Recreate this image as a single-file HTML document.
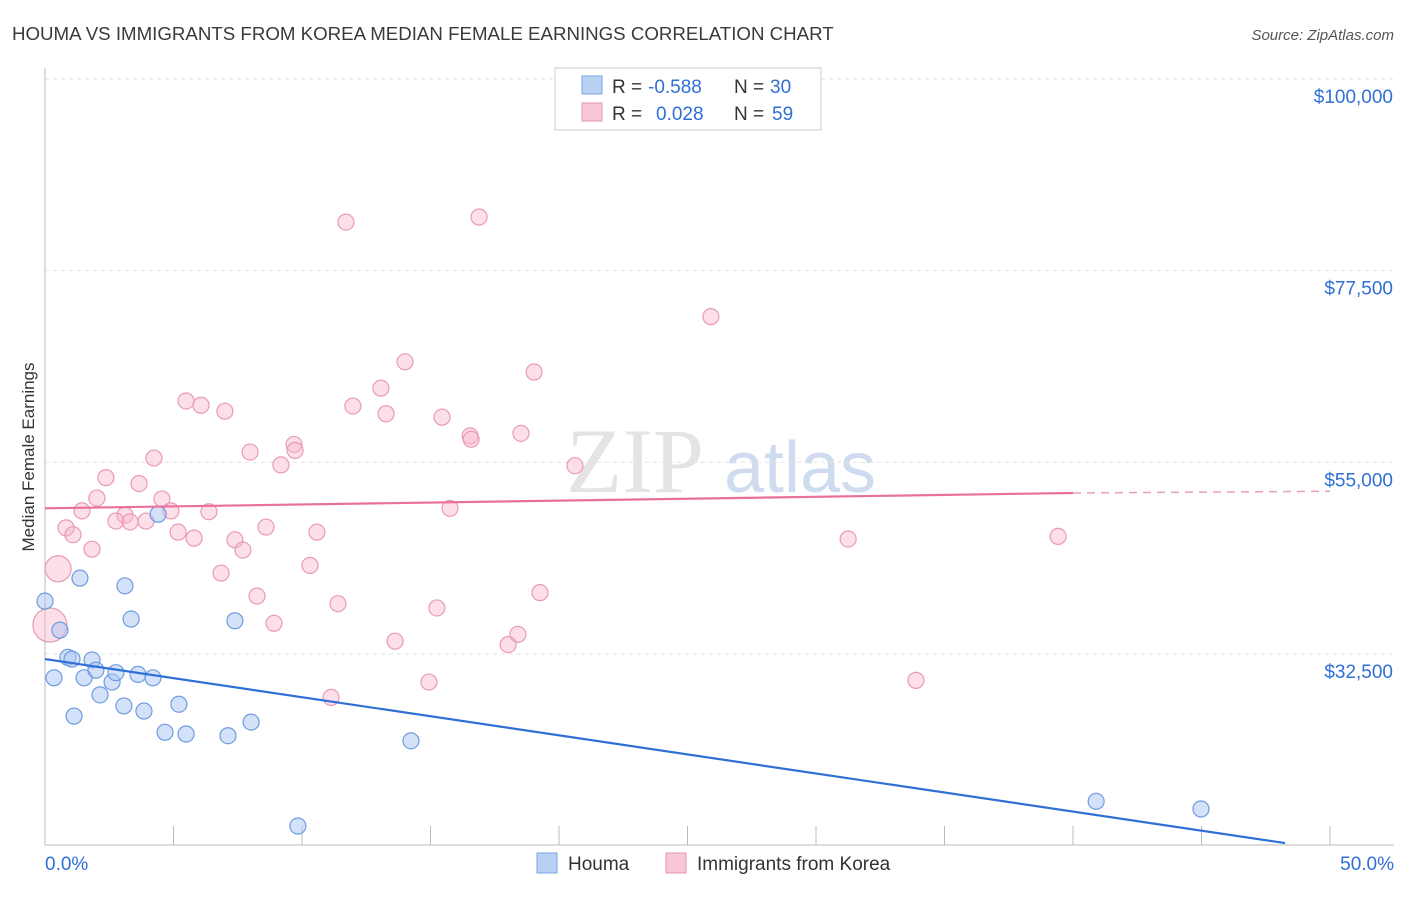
<!DOCTYPE html>
<html><head><meta charset="utf-8"><style>
body{margin:0;background:#fff;font-family:"Liberation Sans",sans-serif;}
</style></head><body>
<svg id="c" width="1406" height="892" xmlns="http://www.w3.org/2000/svg" style="font-family:'Liberation Sans',sans-serif">
<text x="12" y="40" font-size="18.7" fill="#3a3a3a">HOUMA VS IMMIGRANTS FROM KOREA MEDIAN FEMALE EARNINGS CORRELATION CHART</text>
<text x="1394" y="40" font-size="15" fill="#555" text-anchor="end" font-style="italic">Source: ZipAtlas.com</text>
<text x="34" y="457" font-size="17" fill="#333" text-anchor="middle" transform="rotate(-90 34 457)">Median Female Earnings</text>
<text x="635" y="492" font-size="92" fill="#e4e4e4" font-family="'Liberation Serif',serif" text-anchor="middle">ZIP</text>
<text x="800" y="492" font-size="72" fill="#cfdcf0" text-anchor="middle">atlas</text>
<g id="grid"></g><g id="pts"></g><g id="lines"></g>
<g>
<rect x="555" y="68" width="266" height="62" fill="#fff" stroke="#ccc"/>
<rect x="582" y="76" width="20" height="18" fill="#b8d0f4" stroke="#7aa3e0"/>
<text x="612" y="93" font-size="19" fill="#333">R =</text>
<text x="648" y="93" font-size="19" fill="#2f6fd6">-0.588</text>
<text x="734" y="93" font-size="19" fill="#333">N =</text>
<text x="770" y="93" font-size="19" fill="#2f6fd6">30</text>
<rect x="582" y="103" width="20" height="18" fill="#f8c8d6" stroke="#e891ae"/>
<text x="612" y="120" font-size="19" fill="#333">R =</text>
<text x="656" y="120" font-size="19" fill="#2f6fd6">0.028</text>
<text x="734" y="120" font-size="19" fill="#333">N =</text>
<text x="772" y="120" font-size="19" fill="#2f6fd6">59</text>
</g>
<g>
<rect x="537" y="853" width="20" height="20" fill="#b8d0f4" stroke="#7aa3e0"/>
<text x="568" y="870" font-size="19" fill="#333">Houma</text>
<rect x="666" y="853" width="20" height="20" fill="#f8c8d6" stroke="#e891ae"/>
<text x="697" y="870" font-size="19" fill="#333">Immigrants from Korea</text>
</g>
</svg>
<script>
const yTicks=[32500,55000,77500,100000];
const yTickLabels=["$32,500","$55,000","$77,500","$100,000"];
const xTickLabels=["0.0%","50.0%"];
const houmaX=[0,0.58,0.89,0.35,1.13,1.36,1.52,1.83,1.98,2.14,2.61,2.76,3.07,3.11,3.35,3.62,3.85,4.2,4.4,4.67,5.21,5.49,7.12,7.39,8.02,9.84,14.24,40.9,44.98,1.05];
const houmaY=[38700,35300,32100,29700,25200,41400,29700,31800,30600,27700,29200,30300,26400,40500,36600,30100,25800,29700,48900,23300,26600,23100,22900,36400,24500,12300,22300,15200,14300,31900];
const koreaX=[11.71,16.89,25.91,14.01,19.03,13.07,5.49,6.07,7.0,11.98,13.27,15.45,16.54,16.58,18.52,9.69,9.73,7.98,4.24,9.18,20.62,2.37,3.66,2.02,4.55,1.44,3.11,4.9,6.38,15.76,0.82,1.09,2.76,3.31,3.93,5.18,5.8,7.39,8.6,10.58,1.83,7.7,31.25,39.42,0.51,6.85,10.31,8.25,11.4,15.25,8.91,19.26,13.62,18.4,18.02,14.94,33.89,11.13,0.19];
const koreaY=[83200,83800,72100,66800,65600,63700,62200,61700,61000,61600,60700,60300,58100,57700,58400,57100,56400,56200,55500,54700,54600,53200,52500,50800,50700,49300,48800,49300,49200,49600,47300,46500,48100,48000,48100,46800,46100,45900,47400,46800,44800,44700,46000,46300,42500,42000,42900,39300,38400,37900,36100,39700,34000,34800,33600,29200,29400,27400,35900];
const koreaR=[];koreaR[44]=13;koreaR[58]=17;
const houmaTrend=[31900,10300];
const koreaTrend=[49600,51400,51600];
const X=v=>45+v*25.7, Y=v=>79+(100000-v)/117.4;
const NS="http://www.w3.org/2000/svg";
function mk(p,t,a){const e=document.createElementNS(NS,t);for(const k in a)e.setAttribute(k,a[k]);p.appendChild(e);return e;}
const g=document.getElementById('grid');
yTicks.forEach((v,i)=>{
 const l=mk(g,'line',{x1:45,x2:1394,y1:Y(v),y2:Y(v),stroke:'#e2e2e2','stroke-dasharray':'4 4'});
 
 
 const t=mk(g,'text',{x:1393,y:Y(v)+24,'font-size':19,fill:'#2f6fd6','text-anchor':'end'});t.textContent=yTickLabels[i];
 
 
});
const ax=mk(g,'line',{x1:45,x2:45,y1:68,y2:845,stroke:'#bbb'});


const bx=mk(g,'line',{x1:45,x2:1394,y1:845,y2:845,stroke:'#bbb'});


for(let i=0;i<=10;i++){const tk=mk(g,'line',{x1:X(i*5),x2:X(i*5),y1:826,y2:845,stroke:'#bbb'});
 
 }
[[0,45,'start'],[1,1394,'end']].forEach(([i,x,a])=>{const t=mk(g,'text',{x:x,y:870,'font-size':19,fill:'#2f6fd6','text-anchor':a});t.textContent=xTickLabels[i];
 
 });
const p=document.getElementById('pts');
koreaX.forEach((x,i)=>{const c=mk(p,'circle',{cx:X(x),cy:Y(koreaY[i]),r:koreaR[i]||8,fill:'rgba(248,185,205,0.45)',stroke:'#e99ab5','stroke-width':1.2});
 
 });
houmaX.forEach((x,i)=>{const c=mk(p,'circle',{cx:X(x),cy:Y(houmaY[i]),r:8,fill:'rgba(170,198,244,0.5)',stroke:'#6f9be0','stroke-width':1.2});
 
 });
const L=document.getElementById('lines');
const b=mk(L,'line',{x1:X(0),y1:Y(houmaTrend[0]),x2:X(48.25),y2:Y(houmaTrend[1]),stroke:'#2f6fd6','stroke-width':2.2});


const k=mk(L,'line',{x1:X(0),y1:Y(koreaTrend[0]),x2:X(40),y2:Y(koreaTrend[1]),stroke:'#e8709a','stroke-width':2.2});


const kd=mk(L,'line',{x1:X(40),y1:Y(koreaTrend[1]),x2:X(50),y2:Y(koreaTrend[2]),stroke:'#e8a0b8','stroke-width':1.5,'stroke-dasharray':'8 6'});


</script>
</body></html>
